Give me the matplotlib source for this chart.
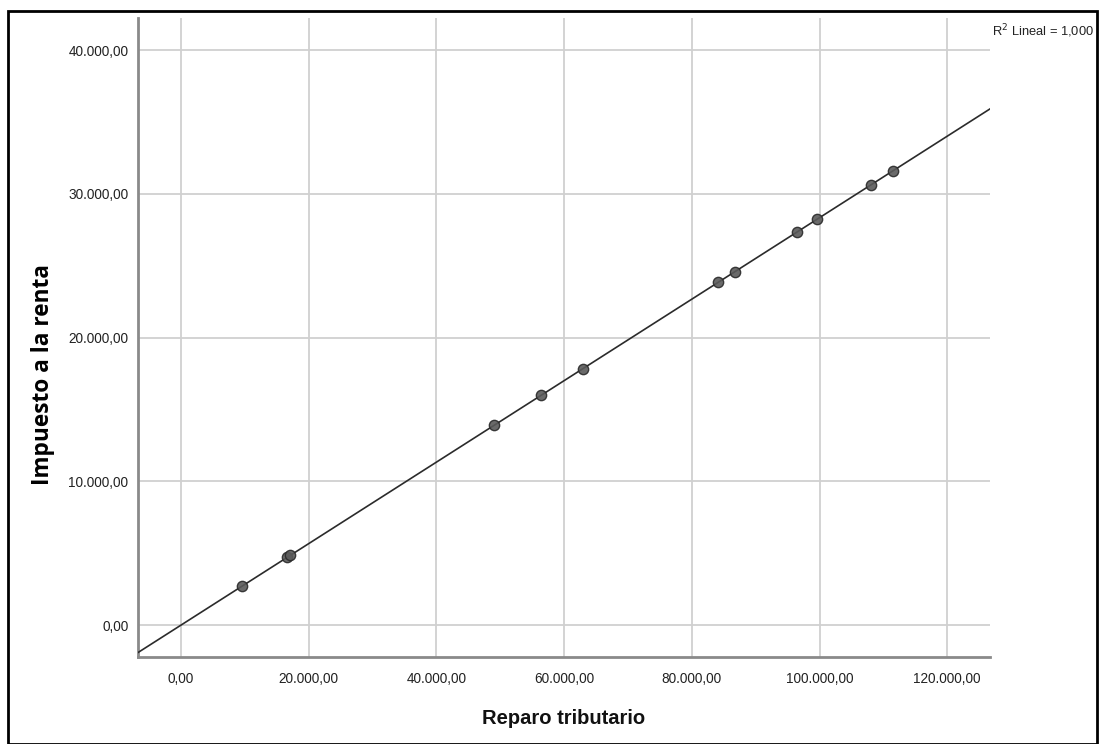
import numpy as np
import matplotlib.pyplot as plt
from matplotlib.ticker import FuncFormatter
from matplotlib.patches import Rectangle

# values
reparo = [9550, 16600, 17100, 49000, 56400, 63000, 84100, 86800, 96500, 99600, 108100, 111500]
impuesto = [2710, 4700, 4840, 13880, 15980, 17840, 23830, 24590, 27340, 28230, 30630, 31600]
x_ticks = [0, 20000, 40000, 60000, 80000, 100000, 120000]
y_ticks = [0, 10000, 20000, 30000, 40000]


def es_fmt(v, pos=None):
    s = "{:,.2f}".format(v)
    return s.replace(",", "X").replace(".", ",").replace("X", ".")


fig = plt.figure(figsize=(10.99, 7.44), dpi=100)
ax = fig.add_axes([0.1256, 0.1169, 0.7752, 0.8589])

xlim = (-6735, 126700)
ylim = (-2226, 42226)

ax.grid(True, color="#d0d0d0", linewidth=1.3)
ax.set_axisbelow(True)

# linear fit
b, a = np.polyfit(reparo, impuesto, 1)
xs = np.array(xlim)
ax.plot(xs, a + b * xs, color="#2b2b2b", linewidth=1.2, zorder=3)

ax.scatter(reparo, impuesto, s=55, facecolor="#5a5a5a", edgecolor="#2a2a2a",
           linewidth=1.0, alpha=0.9, zorder=4)

ax.set_xlim(xlim)
ax.set_ylim(ylim)
ax.set_xticks(x_ticks)
ax.set_yticks(y_ticks)
ax.xaxis.set_major_formatter(FuncFormatter(es_fmt))
ax.yaxis.set_major_formatter(FuncFormatter(es_fmt))
ax.tick_params(length=0, labelsize=9.8, colors="#222222", pad=7,
               labelfontfamily="Liberation Sans")
ax.tick_params(axis="x", pad=11)

for s in ["top", "right"]:
    ax.spines[s].set_visible(False)
for s in ["left", "bottom"]:
    ax.spines[s].set_color("#8a8a8a")
    ax.spines[s].set_linewidth(2)

fig.text(0.5132, 0.034, "Reparo tributario", ha="center", va="center",
         fontsize=14.5, fontweight="bold", family="Liberation Sans", color="#111111")
fig.text(0.039, 0.497, "Impuesto a la renta", ha="center", va="center",
         rotation=90, fontsize=16.3, fontweight="bold", family="Open Sans")
fig.text(0.903, 0.958, "R$^2$ Lineal = 1,000", ha="left", va="center",
         fontsize=9.3, family="Liberation Sans", color="#222222")

# outer frame
fig.patches.append(Rectangle((0.0075, 0.0), 0.991, 0.985, transform=fig.transFigure,
                             fill=False, edgecolor="black", linewidth=2))

fig.savefig("out.png", dpi=100)
